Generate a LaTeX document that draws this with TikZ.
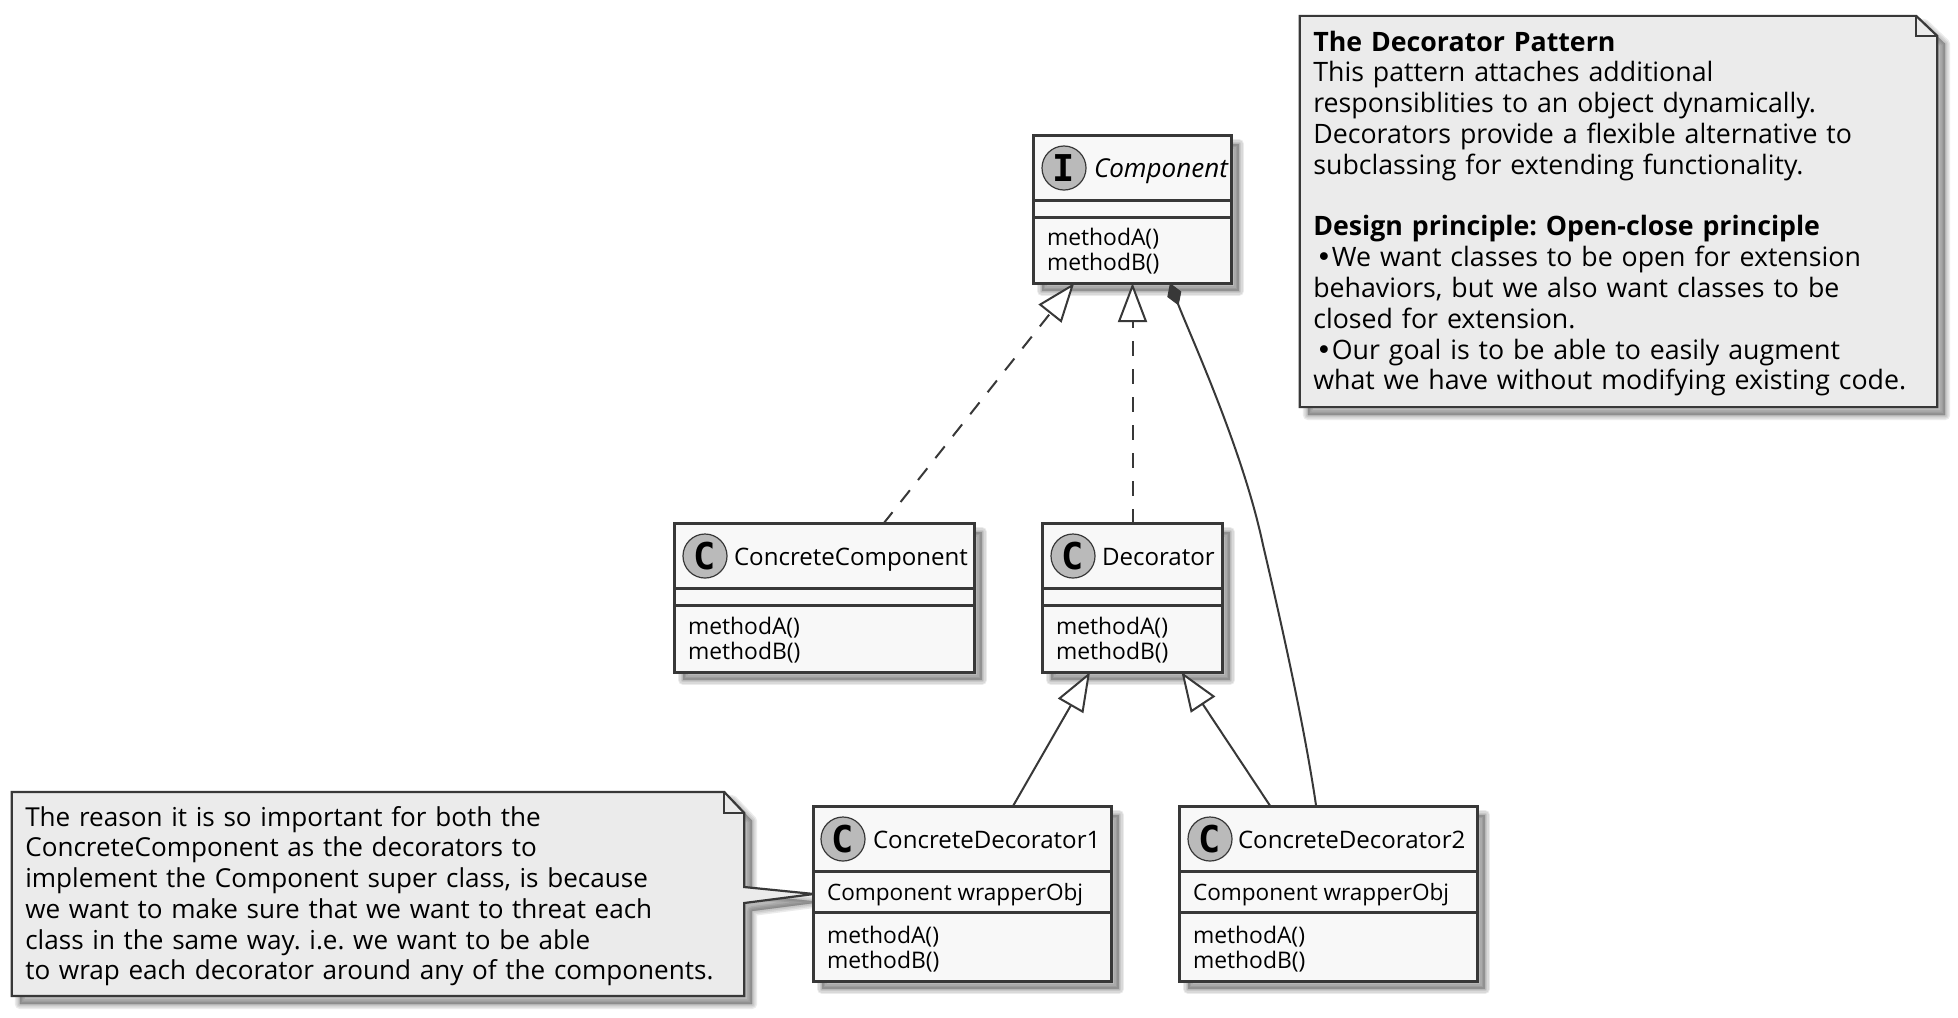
\documentclass[tikz,border=0pt]{standalone}
\usepackage{fontspec}
\setmainfont{Open Sans}
\newfontfamily\markfont{DejaVu Sans Mono}
\newfontfamily\bulletfont{DejaVu Sans}
\usetikzlibrary{arrows.meta,backgrounds,calc}
\definecolor{linecol}{HTML}{383838}
\definecolor{boxcol}{HTML}{F8F8F8}
\definecolor{notecol}{HTML}{EBEBEB}
\definecolor{markcol}{HTML}{BABABA}
\newcommand{\notebullet}{\hspace{0.8pt}{\bulletfont •}}
\tikzset{
  classbox/.style={draw=linecol,fill=boxcol,line width=0.03cm,outer sep=0pt,inner sep=0pt},
  classline/.style={draw=linecol,line width=0.03cm},
  notebox/.style={inner xsep=0.135cm,inner ysep=0pt,outer sep=0pt,align=left},
  notepath/.style={draw=linecol,fill=notecol,line width=0.022cm,line join=miter},
  namelabel/.style={anchor=base west,inner sep=0pt,outer sep=0pt,font=\fontsize{6.85}{9}\selectfont},
  memberlabel/.style={anchor=base west,inner sep=0pt,outer sep=0pt,font=\fontsize{6.5}{8}\selectfont},
  fieldlabel/.style={memberlabel,font=\fontsize{6.42}{8}\selectfont},
  circlemark/.style={circle,draw=linecol,fill=markcol,line width=0.012cm,minimum size=0.44cm,
    inner sep=0pt,font=\markfont\bfseries\fontsize{10.5}{10}\selectfont},
  assoc/.style={draw=linecol,line width=0.02cm},
  implarrow/.style={assoc,-{Triangle[length=0.39cm,width=0.29cm,fill=white,line width=0.02cm]}},
  realizearrow/.style={implarrow,dash pattern=on 0.15cm off 0.13cm},
  diamondarrow/.style={assoc,{Diamond[length=0.24cm,width=0.15cm,fill=linecol,line width=0.01cm]}-}
}
\newcommand{\softshadow}[1]{%
  \foreach \e in {10,7,4,1} {
    \path[fill=black,draw=black,opacity=0.08,line join=round,line width=\e*0.01cm,
      transform canvas={shift={(8,8)}}] #1;
  }
}
\begin{document}
\begin{tikzpicture}[x=0.01cm,y=-0.01cm]
\useasboundingbox (0,0) rectangle (1958,1017);
% Class boxes
\node[classbox,minimum width=1.97cm,minimum height=1.47cm] (comp) at (1132.5,209.5) {};
\node[classbox,minimum width=2.99cm,minimum height=1.48cm] (ccomp) at (824.5,598) {};
\node[classbox,minimum width=1.79cm,minimum height=1.48cm] (dec) at (1132.5,598) {};
\node[classbox,minimum width=2.97cm,minimum height=1.74cm] (cdecA) at (962.5,894) {};
\node[classbox,minimum width=2.97cm,minimum height=1.74cm] (cdecB) at (1328.5,894) {};
% Compartment lines
\foreach \cname/\ya in {comp/200,ccomp/588,dec/588,cdecA/871,cdecB/871}
  \draw[classline] (\cname.west |- 0,\ya) -- (\cname.east |- 0,\ya);
\foreach \cname/\yb in {comp/217,ccomp/605,dec/605,cdecA/912,cdecB/912}
  \draw[classline] (\cname.west |- 0,\yb) -- (\cname.east |- 0,\yb);
% Titles
\node[circlemark] (compmark) at (1064,168) {I};
\node[namelabel,font=\fontsize{7.4}{9}\selectfont\itshape] (compname) at (1094,177) {Component};
\node[circlemark] (ccompmark) at (705,556) {C};
\node[namelabel] (ccompname) at (734,565) {ConcreteComponent};
\node[circlemark] (decmark) at (1073,556) {C};
\node[namelabel] (decname) at (1102,565) {Decorator};
\node[circlemark] (cdecAmark) at (843,839) {C};
\node[namelabel] (cdecAname) at (873,848) {ConcreteDecorator1};
\node[circlemark] (cdecBmark) at (1210,839) {C};
\node[namelabel] (cdecBname) at (1238,848) {ConcreteDecorator2};
% Members
\foreach \cname/\cx/\ym in {comp/1047/245,ccomp/688/634,dec/1056/634,cdecA/827/943,cdecB/1193/943} {
  \node[memberlabel] (\cname methA) at (\cx,\ym) {methodA()};
  \node[memberlabel] (\cname methB) at (\cx,\ym+25.5) {methodB()};
}
\node[fieldlabel] (cdecAfield) at (827,900) {Component wrapperObj};
\node[fieldlabel] (cdecBfield) at (1193,900) {Component wrapperObj};
% Notes
\node[notebox,text width=6.10cm,minimum height=3.91cm,
  font=\fontsize{7.6}{8.76}\selectfont\frenchspacing] (noteA) at (1618.5,211.5) {%
\rule{0pt}{6.9pt}\textbf{The Decorator Pattern}\\
This pattern attaches additional\\
responsiblities to an object dynamically.\\
Decorators provide a flexible alternative to\\
subclassing for extending functionality.\\
\mbox{}\\
\textbf{Design principle: Open-close principle}\\
\notebullet We want classes to be open for extension\\
behaviors, but we also want classes to be\\
closed for extension.\\
\notebullet Our goal is to be able to easily augment\\
what we have without modifying existing code.};
\node[notebox,text width=7.05cm,minimum height=2.04cm,
  font=\fontsize{7.42}{8.74}\selectfont\frenchspacing] (noteB) at (378,894) {%
\rule{0pt}{6.9pt}The reason it is so important for both the\\
ConcreteComponent as the decorators to\\
implement the Component super class, is because\\
we want to make sure that we want to threat each\\
class in the same way. i.e. we want to be able\\
to wrap each decorator around any of the components.};
\begin{scope}[on background layer]
\foreach \cname in {comp,ccomp,dec,cdecA,cdecB} {
  \softshadow{(\cname.north west) rectangle (\cname.south east)}
}
\def\foldA{(noteA.north west) -- ($(noteA.north east)+(-21,0)$) -- ($(noteA.north east)+(0,20)$) -- (noteA.south east) -- (noteA.south west) -- cycle}
\def\foldB{(noteB.north west) -- ($(noteB.north east)+(-20,0)$) -- ($(noteB.north east)+(0,21)$) -- ($(noteB.east)+(0,-7)$) -- (cdecA.west) -- ($(noteB.east)+(0,9)$) -- (noteB.south east) -- (noteB.south west) -- cycle}
\softshadow{\foldA}
\softshadow{\foldB}
\path[notepath] \foldA;
\path[notepath] \foldB;
\draw[notepath,fill=none] ($(noteA.north east)+(-21,0)$) |- ($(noteA.north east)+(0,20)$);
\draw[notepath,fill=none] ($(noteB.north east)+(-20,0)$) |- ($(noteB.north east)+(0,21)$);
\end{scope}
% Relations
\draw[realizearrow] (ccomp) -- (comp);
\draw[realizearrow] (dec) -- (comp);
\draw[implarrow] (cdecA) -- (dec);
\draw[implarrow] (cdecB) -- (dec);
\coordinate (compbend) at (1263,545);
\draw[diamondarrow] (comp.-63) .. controls (1190,335) and (1243,450) .. (compbend)
  .. controls (1283,630) and (1305,730) .. (cdecB.98);
\end{tikzpicture}
\end{document}
